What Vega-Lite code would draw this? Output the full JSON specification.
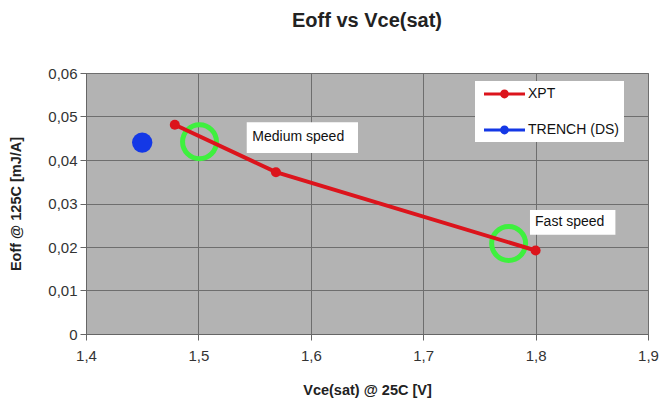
{
  "$schema": "https://vega.github.io/schema/vega-lite/v6.json",
  "width": 562,
  "height": 261,
  "autosize": "none",
  "padding": {"left": 86, "top": 73, "right": 14, "bottom": 69},
  "background": "white",
  "title": {"text": "Eoff vs Vce(sat)", "fontSize": 20, "font": "Liberation Sans", "fontWeight": "bold", "color": "#222222", "offset": 35, "anchor": "middle"},
  "datasets": {
    "series": [
      {"series": "XPT", "vce": 1.479, "eoff": 0.0481},
      {"series": "XPT", "vce": 1.569, "eoff": 0.0372},
      {"series": "XPT", "vce": 1.800, "eoff": 0.0192},
      {"series": "TRENCH (DS)", "vce": 1.450, "eoff": 0.0440}
    ],
    "circles": [
      {"vce": 1.501, "eoff": 0.0442},
      {"vce": 1.776, "eoff": 0.0208}
    ],
    "boxes": [
      {"label": "Medium speed", "x1": 1.543, "x2": 1.642, "y1": 0.0416, "y2": 0.0487, "tx": 1.548, "ty": 0.0452},
      {"label": "Fast speed", "x1": 1.795, "x2": 1.871, "y1": 0.0228, "y2": 0.0285, "tx": 1.7995, "ty": 0.0257}
    ]
  },
  "layer": [
    {
      "data": {"name": "boxes"},
      "mark": {"type": "rect", "color": "white"},
      "encoding": {
        "x": {"field": "x1", "type": "quantitative", "scale": {"domain": [1.4, 1.9], "nice": false, "zero": false},
          "axis": {"title": "Vce(sat) @ 25C [V]", "values": [1.4, 1.5, 1.6, 1.7, 1.8, 1.9], "labelExpr": "replace(format(datum.value, '.1f'), '.', ',')", "labelFlush": false, "labelOverlap": false, "titlePadding": 20, "labelPadding": 8}},
        "x2": {"field": "x2"},
        "y": {"field": "y1", "type": "quantitative", "scale": {"domain": [0, 0.06], "nice": false},
          "axis": {"title": "Eoff @ 125C [mJ/A]", "values": [0, 0.01, 0.02, 0.03, 0.04, 0.05, 0.06], "labelExpr": "datum.value == 0 ? '0' : replace(format(datum.value, '.2f'), '.', ',')", "labelFlush": false, "labelOverlap": false, "titlePadding": 24, "labelPadding": 3}},
        "y2": {"field": "y2"}
      }
    },
    {
      "data": {"name": "circles"},
      "mark": {"type": "point", "filled": false, "color": "#3ef03e", "strokeWidth": 5, "size": 1150, "opacity": 1},
      "encoding": {
        "x": {"field": "vce", "type": "quantitative"},
        "y": {"field": "eoff", "type": "quantitative"}
      }
    },
    {
      "data": {"name": "series"},
      "transform": [{"filter": "datum.series == 'XPT'"}],
      "mark": {"type": "line", "color": "#dc141c", "strokeWidth": 4},
      "encoding": {
        "x": {"field": "vce", "type": "quantitative"},
        "y": {"field": "eoff", "type": "quantitative"}
      }
    },
    {
      "data": {"name": "series"},
      "transform": [{"filter": "datum.series == 'XPT'"}],
      "mark": {"type": "point", "filled": true, "size": 100, "opacity": 1},
      "encoding": {
        "x": {"field": "vce", "type": "quantitative"},
        "y": {"field": "eoff", "type": "quantitative"},
        "color": {"field": "series", "type": "nominal", "scale": {"domain": ["XPT", "TRENCH (DS)"], "range": ["#dc141c", "#1438e6"]}, "sort": null,
          "legend": {"title": null, "orient": "none", "legendX": 389, "legendY": 8, "fillColor": "white", "padding": 5,
            "symbolType": "M-0.5,-0.2L4.625,-0.2L4.625,0.2L-0.5,0.2Z M1.51,0A0.55,0.55 0 1,1 2.61,0A0.55,0.55 0 1,1 1.51,0Z",
            "symbolSize": 256, "symbolStrokeWidth": 0, "labelFontSize": 14, "labelFont": "Liberation Sans", "labelColor": "#111111", "labelOffset": 32, "rowPadding": 21}}
      }
    },
    {
      "data": {"name": "series"},
      "transform": [{"filter": "datum.series == 'TRENCH (DS)'"}],
      "mark": {"type": "point", "filled": true, "size": 415, "opacity": 1},
      "encoding": {
        "x": {"field": "vce", "type": "quantitative"},
        "y": {"field": "eoff", "type": "quantitative"},
        "color": {"field": "series", "type": "nominal"}
      }
    },
    {
      "data": {"name": "boxes"},
      "mark": {"type": "text", "align": "left", "baseline": "middle", "fontSize": 14, "font": "Liberation Sans", "color": "#111111"},
      "encoding": {
        "x": {"field": "tx", "type": "quantitative"},
        "y": {"field": "ty", "type": "quantitative"},
        "text": {"field": "label"}
      }
    }
  ],
  "config": {
    "view": {"fill": "#b3b3b3", "stroke": "#7a7a7a", "strokeWidth": 1},
    "font": "Liberation Sans",
    "axis": {"grid": true, "gridColor": "#6e6e6e", "gridWidth": 1, "gridOpacity": 1, "tickSize": 6, "tickColor": "#666666", "domainColor": "#666666", "labelFontSize": 15, "labelColor": "#333333", "labelFont": "Liberation Sans", "titleFont": "Liberation Sans", "titleFontSize": 14.5, "titleFontWeight": "bold", "titleColor": "#222222"}
  }
}
